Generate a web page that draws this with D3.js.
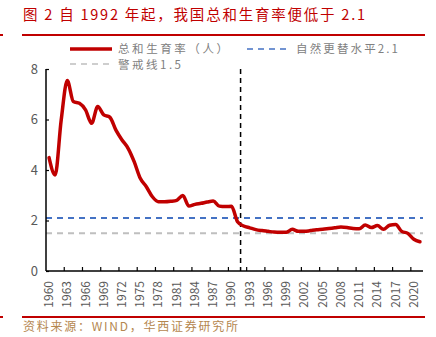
<!DOCTYPE html>
<html><head><meta charset="utf-8">
<script src="https://cdn.jsdelivr.net/npm/d3@7/dist/d3.min.js"></script>
<style>body{margin:0;background:#fff}svg{display:block}text{font-family:"Noto Sans CJK SC","Noto Sans",sans-serif}</style>
</head><body>
<script>
const title = "图 2 自 1992 年起，我国总和生育率便低于 2.1";
const source = "资料来源：WIND，华西证券研究所";
const years = d3.range(1960, 2022);
const tfr = [4.49,3.80,5.98,7.54,6.71,6.64,6.38,5.85,6.51,6.18,6.09,5.58,5.19,4.86,4.33,3.67,3.34,2.94,2.74,2.74,2.76,2.80,2.99,2.57,2.64,2.68,2.73,2.77,2.57,2.55,2.56,1.95,1.78,1.71,1.64,1.60,1.57,1.54,1.53,1.53,1.65,1.57,1.57,1.60,1.63,1.65,1.68,1.71,1.74,1.72,1.68,1.67,1.82,1.72,1.80,1.65,1.81,1.84,1.57,1.49,1.26,1.16];
const replacement = 2.1;
const warning = 1.5;
const markYear = 1992;
const yTicks = [0,2,4,6,8];
const seriesNames = ["总和生育率（人）","自然更替水平2.1","警戒线1.5"];

const W = 436, H = 337;
const svg = d3.select("body").append("svg").attr("width", W).attr("height", H);

const x = d3.scaleBand().domain(years).range([46, 423]);
const y = d3.scaleLinear().domain([0, 8]).range([271, 69]);
const xc = d => x(d) + x.bandwidth()/2;

// title
svg.append("text").attr("x", 23).attr("y", 20).attr("fill", "#c00000").attr("font-size", 14.5)
  .attr("textLength", 342).attr("lengthAdjust", "spacing").text(title);
// red rules
svg.append("line").attr("x1", 22).attr("x2", 425).attr("y1", 35).attr("y2", 35).attr("stroke", "#c00000").attr("stroke-width", 2);
svg.append("line").attr("x1", 0).attr("x2", 3).attr("y1", 35).attr("y2", 35).attr("stroke", "#c00000").attr("stroke-width", 2);
svg.append("line").attr("x1", 22).attr("x2", 425).attr("y1", 317).attr("y2", 317).attr("stroke", "#c00000").attr("stroke-width", 2);
svg.append("line").attr("x1", 0).attr("x2", 3).attr("y1", 317).attr("y2", 317).attr("stroke", "#c00000").attr("stroke-width", 2);
svg.append("text").attr("x", 23).attr("y", 331).attr("fill", "#b5874f").attr("font-size", 12)
  .attr("textLength", 215).attr("lengthAdjust", "spacing").text(source);

// reference lines
svg.append("line").attr("x1", 46).attr("x2", 423).attr("y1", y(replacement)).attr("y2", y(replacement))
  .attr("stroke", "#4472c4").attr("stroke-width", 2).attr("stroke-dasharray", "6,5");
svg.append("line").attr("x1", 46).attr("x2", 423).attr("y1", y(warning)).attr("y2", y(warning))
  .attr("stroke", "#bfbfbf").attr("stroke-width", 2).attr("stroke-dasharray", "6,5");

// vertical marker
svg.append("line").attr("x1", x(markYear)).attr("x2", x(markYear)).attr("y1", y(8)).attr("y2", y(0))
  .attr("stroke", "#000").attr("stroke-width", 1.5).attr("stroke-dasharray", "5,4");

// axes
const yAxis = svg.append("g").attr("transform", "translate(46,0)")
  .call(d3.axisLeft(y).tickValues(yTicks).tickSize(-3).tickPadding(8).tickFormat(d3.format("d")));
yAxis.select(".domain").attr("stroke", "#000").attr("stroke-width", 1.5).attr("d", `M0,${y(8)}V${y(0)}`);
yAxis.selectAll(".tick line").attr("stroke", "#000").attr("stroke-width", 1.2);
yAxis.selectAll("text").attr("fill", "#595959").attr("font-size", 13).attr("font-family", "Liberation Sans, Arial, sans-serif");

const xg = svg.append("g").attr("transform", "translate(0,271)");
xg.append("line").attr("x1", 46).attr("x2", 423).attr("y1", 0).attr("y2", 0).attr("stroke", "#000").attr("stroke-width", 1.5);
const tickYears = years.filter(d => (d - 1960) % 3 === 0);
xg.selectAll(".xt").data(tickYears.filter(d => d > 1960)).enter().append("line")
  .attr("x1", d => x(d)).attr("x2", d => x(d)).attr("y1", 0).attr("y2", -4).attr("stroke", "#000").attr("stroke-width", 1.2);
xg.selectAll(".xl").data(tickYears).enter().append("text")
  .attr("transform", d => `translate(${xc(d) + 4},10) rotate(-90)`)
  .attr("text-anchor", "end").attr("fill", "#595959").attr("font-size", 12)
  .attr("font-family", "Liberation Sans, Arial, sans-serif").text(d => d);

// main line
const line = d3.line().x((d, i) => xc(years[i])).y(d => y(d)).curve(d3.curveMonotoneX);
svg.append("path").datum(tfr).attr("d", line).attr("fill", "none").attr("stroke", "#c00000")
  .attr("stroke-width", 3.5).attr("stroke-linejoin", "round").attr("stroke-linecap", "round");

// legend
const lg = svg.append("g");
lg.append("line").attr("x1", 70).attr("x2", 112).attr("y1", 49).attr("y2", 49).attr("stroke", "#c00000").attr("stroke-width", 3.5);
lg.append("text").attr("x", 118).attr("y", 53).attr("fill", "#808080").attr("font-size", 11.5)
  .attr("textLength", 110).attr("lengthAdjust", "spacing").text(seriesNames[0]);
lg.append("line").attr("x1", 247).attr("x2", 287).attr("y1", 49).attr("y2", 49).attr("stroke", "#4472c4").attr("stroke-width", 1.5).attr("stroke-dasharray", "6,5");
lg.append("text").attr("x", 296).attr("y", 53).attr("fill", "#808080").attr("font-size", 11.5)
  .attr("textLength", 102).attr("lengthAdjust", "spacing").text(seriesNames[1]);
lg.append("line").attr("x1", 70).attr("x2", 112).attr("y1", 64).attr("y2", 64).attr("stroke", "#bfbfbf").attr("stroke-width", 1.5).attr("stroke-dasharray", "6,5");
lg.append("text").attr("x", 118).attr("y", 68.5).attr("fill", "#808080").attr("font-size", 11.5)
  .attr("textLength", 63).attr("lengthAdjust", "spacing").text(seriesNames[2]);
</script>
</body></html>
